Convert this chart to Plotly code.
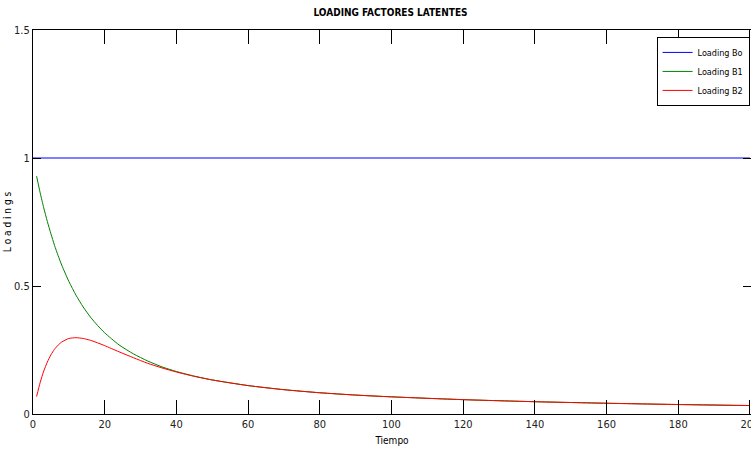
import plotly.graph_objects as go

# Maturities (months) and factor loadings of the Nelson-Siegel curve
tau = [1, 2, 3, 4, 5, 6, 7, 8, 10, 12, 14, 16, 18, 20, 24, 28, 32, 36, 40,
       45, 50, 60, 70, 80, 90, 100, 120, 140, 160, 180, 200]
loading_b1 = [0.929, 0.864, 0.805, 0.752, 0.704, 0.659, 0.619, 0.582, 0.518,
              0.464, 0.418, 0.379, 0.346, 0.317, 0.270, 0.235, 0.207, 0.184,
              0.166, 0.148, 0.133, 0.111, 0.095, 0.083, 0.074, 0.067, 0.056,
              0.048, 0.042, 0.037, 0.033]
loading_b2 = [0.068, 0.123, 0.168, 0.203, 0.231, 0.253, 0.269, 0.281, 0.295,
              0.298, 0.295, 0.288, 0.278, 0.267, 0.243, 0.220, 0.198, 0.180,
              0.164, 0.147, 0.133, 0.111, 0.095, 0.083, 0.074, 0.067, 0.056,
              0.048, 0.042, 0.037, 0.033]
tau_b0 = [0, 200]
loading_b0 = [1, 1]

x_ticks = [0, 20, 40, 60, 80, 100, 120, 140, 160, 180, 200]
y_ticks = [0, 0.5, 1, 1.5]
y_tick_text = ["0", "0.5", "1", "1.5"]

FONT = "DejaVu Sans Condensed, Liberation Sans Narrow, Arial Narrow, Liberation Sans, sans-serif"

fig = go.Figure()
fig.add_trace(go.Scatter(x=tau_b0, y=loading_b0, mode="lines", name="Loading Bo",
                         line=dict(color="#0000FF", width=1)))
fig.add_trace(go.Scatter(x=tau, y=loading_b1, mode="lines", name="Loading B1",
                         line=dict(color="#008000", width=1, shape="spline", smoothing=0.6)))
fig.add_trace(go.Scatter(x=tau, y=loading_b2, mode="lines", name="Loading B2",
                         line=dict(color="#FF0000", width=1, shape="spline", smoothing=0.6)))

axis_common = dict(showline=True, linecolor="black", linewidth=1, mirror="ticks",
                   ticks="inside", tickcolor="black", showgrid=False, zeroline=False,
                   automargin=False,
                   tickfont=dict(family=FONT, size=11, color="#222"))

fig.update_layout(
    width=751, height=455,
    margin=dict(l=33, r=0, t=30, b=41),
    paper_bgcolor="white", plot_bgcolor="white",
    font=dict(family=FONT, color="black"),
    title=dict(text="<b>LOADING FACTORES LATENTES</b>", x=0.52, xanchor="center",
               y=0.972, yanchor="middle", font=dict(family=FONT, size=10, color="black")),
    xaxis=dict(range=[0, 200.3], tickvals=x_ticks, ticklen=14, ticklabeloverflow="allow",
               **axis_common,
               title=dict(text="Tiempo", font=dict(family=FONT, size=10), standoff=6)),
    yaxis=dict(range=[0, 1.5], tickvals=y_ticks, ticktext=y_tick_text, ticklen=8,
               **axis_common,
               title=dict(text="L o a d i n g s", font=dict(family=FONT, size=10), standoff=0)),
    legend=dict(x=0.998, xanchor="right", y=0.982, yanchor="top",
                bgcolor="white", bordercolor="black", borderwidth=1,
                font=dict(family=FONT, size=9), itemwidth=30, tracegroupgap=0),
    showlegend=True,
)

fig.write_html("out.html")
